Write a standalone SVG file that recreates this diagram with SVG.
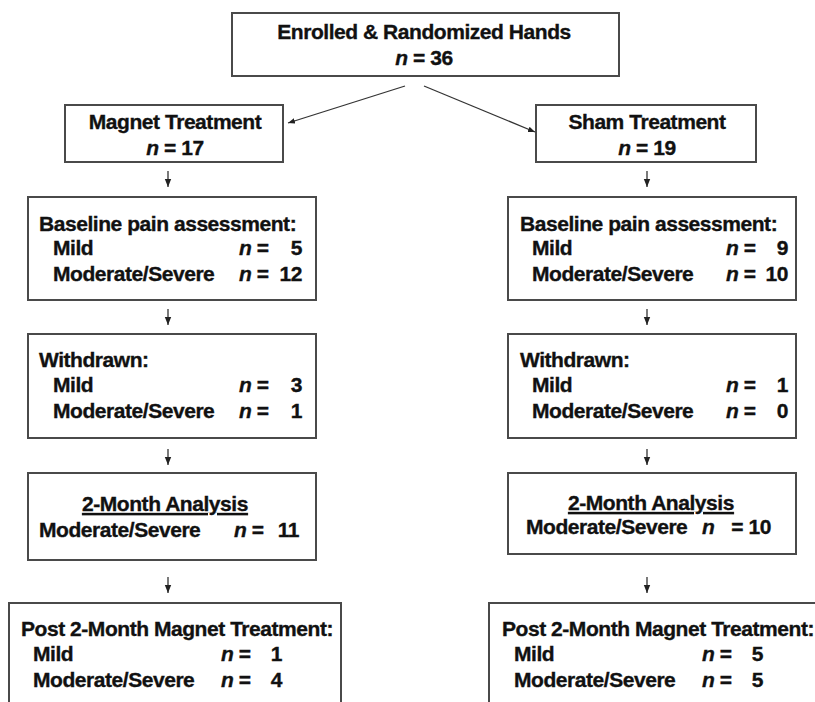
<svg xmlns="http://www.w3.org/2000/svg" width="815" height="702" viewBox="0 0 815 702">
<defs>
<marker id="ah" viewBox="0 0 10 10" refX="10" refY="5" markerWidth="7" markerHeight="7" markerUnits="userSpaceOnUse" orient="auto">
<path d="M0,1 L10,5 L0,9 Z" fill="#222"/>
</marker>
<marker id="ahs" viewBox="0 0 10 10" refX="10" refY="5" markerWidth="8" markerHeight="8" markerUnits="userSpaceOnUse" orient="auto">
<path d="M0,1 L10,5 L0,9 Z" fill="#222"/>
</marker>
<style>
.box{fill:#fff;stroke:#4a4a4a;stroke-width:2}
.t{font-family:"Liberation Sans",Arial,sans-serif;font-weight:bold;font-size:21px;fill:#111;stroke:#111;stroke-width:0.35;letter-spacing:-0.45px}
.c{text-anchor:middle}
.e{text-anchor:end}
.n{font-style:italic}
.ln{stroke:#333;stroke-width:1.3;fill:none}
</style>
</defs>
<rect width="815" height="702" fill="#fff"/>
<g id="connectors">
<line class="ln" x1="405" y1="86" x2="288" y2="123" marker-end="url(#ah)"/>
<line class="ln" x1="424" y1="86" x2="535" y2="132" marker-end="url(#ah)"/>
<line class="ln" x1="168" y1="171" x2="168" y2="187" marker-end="url(#ahs)"/>
<line class="ln" x1="647" y1="171" x2="647" y2="187" marker-end="url(#ahs)"/>
<line class="ln" x1="168" y1="309" x2="168" y2="325" marker-end="url(#ahs)"/>
<line class="ln" x1="647" y1="309" x2="647" y2="325" marker-end="url(#ahs)"/>
<line class="ln" x1="168" y1="449" x2="168" y2="465" marker-end="url(#ahs)"/>
<line class="ln" x1="647" y1="449" x2="647" y2="465" marker-end="url(#ahs)"/>
<line class="ln" x1="168" y1="577" x2="168" y2="593" marker-end="url(#ahs)"/>
<line class="ln" x1="647" y1="577" x2="647" y2="593" marker-end="url(#ahs)"/>
</g>
<g id="enrolled">
<rect class="box" x="232" y="13" width="387" height="63"/>
<text class="t c" x="424" y="39">Enrolled &amp; Randomized Hands</text>
<text class="t c" x="424" y="65"><tspan class="n">n</tspan> = 36</text>
</g>
<g id="magnet">
<rect class="box" x="65" y="105" width="218" height="57"/>
<text class="t c" x="175" y="129">Magnet Treatment</text>
<text class="t c" x="175" y="155"><tspan class="n">n</tspan> = 17</text>
</g>
<g id="sham">
<rect class="box" x="536" y="105" width="220" height="57"/>
<text class="t c" x="647" y="129">Sham Treatment</text>
<text class="t c" x="647" y="155"><tspan class="n">n</tspan> = 19</text>
</g>
<g id="baseline-magnet">
<rect class="box" x="28" y="197" width="288" height="103"/>
<text class="t" x="39" y="231">Baseline pain assessment:</text>
<text class="t" x="53" y="255">Mild</text>
<text class="t" x="239" y="255"><tspan class="n">n</tspan> =</text>
<text class="t e" x="302" y="255">5</text>
<text class="t" x="53" y="281">Moderate/Severe</text>
<text class="t" x="239" y="281"><tspan class="n">n</tspan> =</text>
<text class="t e" x="302" y="281">12</text>
</g>
<g id="baseline-sham">
<rect class="box" x="508" y="197" width="288" height="103"/>
<text class="t" x="520" y="231">Baseline pain assessment:</text>
<text class="t" x="532" y="255">Mild</text>
<text class="t" x="726" y="255"><tspan class="n">n</tspan> =</text>
<text class="t e" x="788" y="255">9</text>
<text class="t" x="532" y="281">Moderate/Severe</text>
<text class="t" x="726" y="281"><tspan class="n">n</tspan> =</text>
<text class="t e" x="788" y="281">10</text>
</g>
<g id="withdrawn-magnet">
<rect class="box" x="28" y="334" width="288" height="104"/>
<text class="t" x="39" y="367">Withdrawn:</text>
<text class="t" x="53" y="392">Mild</text>
<text class="t" x="239" y="392"><tspan class="n">n</tspan> =</text>
<text class="t e" x="302" y="392">3</text>
<text class="t" x="53" y="418">Moderate/Severe</text>
<text class="t" x="239" y="418"><tspan class="n">n</tspan> =</text>
<text class="t e" x="302" y="418">1</text>
</g>
<g id="withdrawn-sham">
<rect class="box" x="508" y="334" width="288" height="104"/>
<text class="t" x="520" y="367">Withdrawn:</text>
<text class="t" x="532" y="392">Mild</text>
<text class="t" x="726" y="392"><tspan class="n">n</tspan> =</text>
<text class="t e" x="788" y="392">1</text>
<text class="t" x="532" y="418">Moderate/Severe</text>
<text class="t" x="726" y="418"><tspan class="n">n</tspan> =</text>
<text class="t e" x="788" y="418">0</text>
</g>
<g id="analysis-magnet">
<rect class="box" x="28" y="473" width="288" height="87"/>
<text class="t c" x="165" y="511" text-decoration="underline">2-Month Analysis</text>
<text class="t" x="39" y="537">Moderate/Severe</text>
<text class="t" x="234" y="537"><tspan class="n">n</tspan> =</text>
<text class="t e" x="299" y="537">11</text>
</g>
<g id="analysis-sham">
<rect class="box" x="508" y="473" width="288" height="81"/>
<text class="t c" x="651" y="510" text-decoration="underline">2-Month Analysis</text>
<text class="t" x="526" y="534">Moderate/Severe</text>
<text class="t" x="702" y="534"><tspan class="n">n</tspan></text>
<text class="t e" x="771" y="534">= 10</text>
</g>
<g id="post-magnet">
<rect class="box" x="9" y="603" width="332" height="110"/>
<text class="t" x="21" y="636">Post 2-Month Magnet Treatment:</text>
<text class="t" x="33" y="661">Mild</text>
<text class="t" x="221" y="661"><tspan class="n">n</tspan> =</text>
<text class="t e" x="282" y="661">1</text>
<text class="t" x="33" y="687">Moderate/Severe</text>
<text class="t" x="221" y="687"><tspan class="n">n</tspan> =</text>
<text class="t e" x="282" y="687">4</text>
</g>
<g id="post-sham">
<rect class="box" x="489" y="603" width="340" height="110"/>
<text class="t" x="502" y="636">Post 2-Month Magnet Treatment:</text>
<text class="t" x="514" y="661">Mild</text>
<text class="t" x="702" y="661"><tspan class="n">n</tspan> =</text>
<text class="t e" x="763" y="661">5</text>
<text class="t" x="514" y="687">Moderate/Severe</text>
<text class="t" x="702" y="687"><tspan class="n">n</tspan> =</text>
<text class="t e" x="763" y="687">5</text>
</g>
</svg>
